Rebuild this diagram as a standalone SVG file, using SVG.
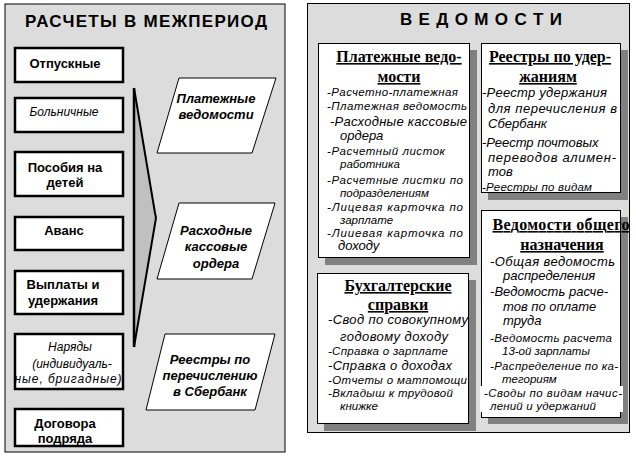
<svg xmlns="http://www.w3.org/2000/svg" width="636" height="462" viewBox="0 0 636 462">
<style>
.panel{fill:#dcdcdc;stroke:#000;stroke-width:1}
.lbox{fill:#fff;stroke:#000;stroke-width:2.5}
.para{fill:#fff;stroke:#000;stroke-width:1}
.rbox{fill:#fff;stroke:#000;stroke-width:1}
.shadow{fill:#808080}
.title{font-family:"Liberation Sans",Arial,sans-serif;font-weight:bold;font-size:17px;fill:#000}
.lb{font-family:"Liberation Sans",Arial,sans-serif;font-weight:bold;font-size:13px;fill:#000;text-anchor:middle}
.li{font-family:"Liberation Sans",Arial,sans-serif;font-style:italic;font-size:12px;fill:#000;text-anchor:middle}
.pb{font-family:"Liberation Sans",Arial,sans-serif;font-weight:bold;font-style:italic;font-size:13px;fill:#000;text-anchor:middle}
.hd{font-family:"Liberation Serif","Times New Roman",serif;font-weight:bold;font-size:16px;fill:#000;text-anchor:middle;text-decoration:underline}
.it{font-family:"Liberation Sans",Arial,sans-serif;font-style:italic;font-size:11.5px;fill:#000}
.itl{font-family:"Liberation Sans",Arial,sans-serif;font-style:italic;font-size:13px;fill:#000}
</style>

<g id="left-panel">
<rect class="panel" x="5" y="4" width="280" height="448"/>
<text class="title" x="146" y="27" text-anchor="middle" textLength="242">РАСЧЕТЫ В МЕЖПЕРИОД</text>
</g>

<g id="right-panel">
<rect class="panel" x="307.5" y="3.5" width="322" height="429"/>
<text class="title" x="481" y="25" text-anchor="middle" font-size="15" textLength="162">В Е Д О М О С Т И</text>
</g>

<g id="otpusknye">
<rect class="lbox" x="15" y="48" width="108" height="34"/>
<text class="lb" x="65" y="68">Отпускные</text>
</g>
<g id="bolnichnye">
<rect class="lbox" x="15" y="98" width="108" height="34"/>
<text class="li" x="64" y="116" font-size="11">Больничные</text>
</g>
<g id="posobiya">
<rect class="lbox" x="15" y="152" width="108" height="44"/>
<text class="lb" x="65" y="172">Пособия на</text>
<text class="lb" x="65" y="187">детей</text>
</g>
<g id="avans">
<rect class="lbox" x="15" y="217" width="108" height="33"/>
<text class="lb" x="64" y="235">Аванс</text>
</g>
<g id="vyplaty">
<rect class="lbox" x="15" y="271" width="108" height="43"/>
<text class="lb" x="63" y="289">Выплаты и</text>
<text class="lb" x="63" y="305">удержания</text>
</g>
<g id="naryady">
<rect class="lbox" x="15" y="334" width="108" height="55"/>
<text class="li" x="70" y="351">Наряды</text>
<text class="li" x="72" y="368">(индивидуаль-</text>
<text class="li" x="68" y="383" textLength="107">ные, бригадные)</text>
</g>
<g id="dogovora">
<rect class="lbox" x="15" y="409" width="108" height="37"/>
<text class="lb" x="65" y="428">Договора</text>
<text class="lb" x="65" y="443">подряда</text>
</g>

<g id="connectors">
<path d="M134,88 L155,218 L134,347 Z" fill="#c0c0c0" stroke="none"/>
<path d="M134,88 L155,213 L156,218 L134,347" fill="none" stroke="#000" stroke-width="2"/>
<line x1="134" y1="88" x2="134" y2="347" stroke="#000" stroke-width="2.5"/>
</g>

<g id="platezhnye-par">
<polygon class="para" points="179,78 276,78 252,153 157,153"/>
<text class="pb" x="216" y="103">Платежные</text>
<text class="pb" x="216" y="119">ведомости</text>
</g>
<g id="raskhodnye-par">
<polygon class="para" points="179,203 275,203 252,279 157,279"/>
<text class="pb" x="216" y="235">Расходные</text>
<text class="pb" x="216" y="251">кассовые</text>
<text class="pb" x="216" y="268">ордера</text>
</g>
<g id="reestry-par">
<polygon class="para" points="165,334 275,334 255,410 146,410"/>
<text class="pb" x="210" y="364">Реестры по</text>
<text class="pb" x="210" y="380">перечислению</text>
<text class="pb" x="210" y="396">в Сбербанк</text>
</g>

<g id="platezhnye-vedomosti">
<rect class="shadow" x="325" y="50" width="152" height="215"/>
<rect class="rbox" x="318.5" y="43.5" width="151" height="214"/>
<text class="hd" x="399" y="62">Платежные ведо-</text>
<text class="hd" x="399" y="82">мости</text>
<text class="it" x="327" y="96" textLength="131">-Расчетно-платежная</text>
<text class="it" x="327" y="110" textLength="140">-Платежная ведомость</text>
<text class="itl" x="330" y="126" textLength="137">-Расходные кассовые</text>
<text class="itl" x="340" y="140">ордера</text>
<text class="it" x="327" y="155" textLength="118">-Расчетный листок</text>
<text class="it" x="340" y="168">работника</text>
<text class="it" x="327" y="184" textLength="136">-Расчетные листки по</text>
<text class="it" x="340" y="197">подразделениям</text>
<text class="it" x="327" y="211" textLength="136">-Лицевая карточка по</text>
<text class="it" x="340" y="224">зарплате</text>
<text class="it" x="327" y="237" textLength="136">-Лииевая карточка по</text>
<text class="itl" x="338" y="250">доходу</text>
</g>

<g id="reestry-uderzhaniya">
<rect class="shadow" x="488" y="50" width="140" height="150"/>
<rect class="rbox" x="481.5" y="43.5" width="139" height="149"/>
<text class="hd" x="550" y="62">Реестры по удер-</text>
<text class="hd" x="548" y="82">жаниям</text>
<text class="itl" x="482" y="97" textLength="125">-Реестр удержания</text>
<text class="itl" x="488" y="113" textLength="129">для перечисления в</text>
<text class="itl" x="488" y="128">Сбербанк</text>
<text class="itl" x="482" y="147">-Реестр почтовых</text>
<text class="itl" x="488" y="162" textLength="128">переводов алимен-</text>
<text class="itl" x="488" y="176">тов</text>
<text class="it" x="482" y="191" textLength="110">-Реестры по видам</text>
</g>

<g id="bukhgalterskie-spravki">
<rect class="shadow" x="324" y="280" width="152" height="151"/>
<rect class="rbox" x="317.5" y="273.5" width="151" height="150"/>
<text class="hd" x="398" y="291">Бухгалтерские</text>
<text class="hd" x="398" y="310">справки</text>
<text class="itl" x="328" y="324" textLength="140">-Свод по совокупному</text>
<text class="itl" x="340" y="341" textLength="108">годовому доходу</text>
<text class="it" x="328" y="355" textLength="120">-Справка о зарплате</text>
<text class="itl" x="328" y="370" textLength="124">-Справка о доходах</text>
<text class="it" x="328" y="384" textLength="139">-Отчеты о матпомощи</text>
<text class="it" x="328" y="397" textLength="125">-Вкладыш к трудовой</text>
<text class="it" x="340" y="410">книжке</text>
</g>

<g id="vedomosti-obshchego">
<rect class="shadow" x="488" y="217" width="140" height="207"/>
<rect class="rbox" x="481.5" y="210.5" width="139" height="207"/>
<text class="hd" x="561" y="230" textLength="137">Ведомости общего</text>
<text class="hd" x="562" y="250">назначения</text>
<text class="itl" x="490" y="266" textLength="125">-Общая ведомость</text>
<text class="itl" x="503" y="280">распределения</text>
<text class="itl" x="490" y="296" textLength="118">-Ведомость расче-</text>
<text class="itl" x="503" y="311">тов по оплате</text>
<text class="itl" x="503" y="325">труда</text>
<text class="it" x="490" y="342" textLength="122">-Ведомость расчета</text>
<text class="it" x="502" y="355">13-ой зарплаты</text>
<text class="it" x="490" y="370" textLength="128">-Распределение по ка-</text>
<text class="it" x="502" y="383">тегориям</text>
<rect x="480" y="386" width="143" height="26" fill="#fff"/>
<text class="it" x="484" y="397" textLength="138">-Своды по видам начис-</text>
<text class="it" x="490" y="410" textLength="106">лений и удержаний</text>
</g>
</svg>
